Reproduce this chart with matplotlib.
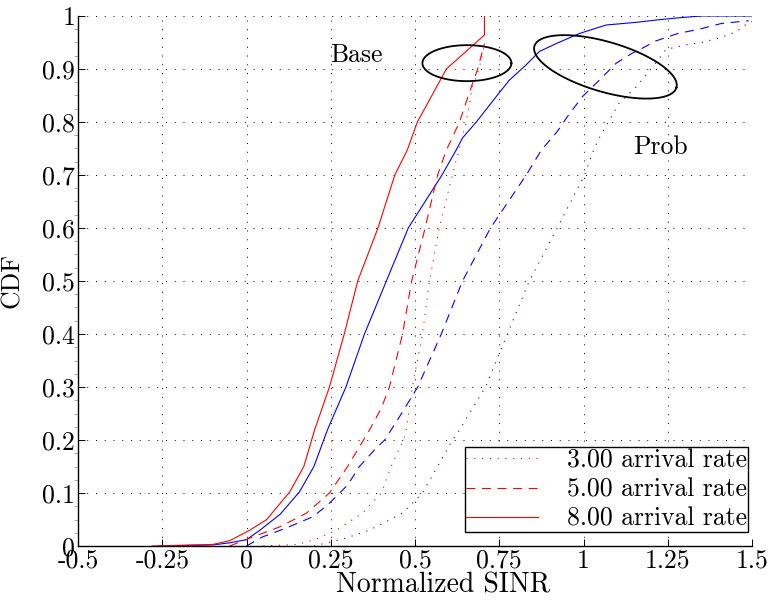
import numpy as np
import matplotlib
matplotlib.use("Agg")
import matplotlib.pyplot as plt

plt.rcParams["font.family"] = ["cmr10", "DejaVu Serif"]
plt.rcParams["mathtext.fontset"] = "cm"
plt.rcParams["axes.unicode_minus"] = False

# empirical CDFs of the normalized SINR, (x, F(x)) pairs
base8_x = [-0.28, -0.10, -0.05, 0.01, 0.06, 0.128, 0.17, 0.202, 0.246, 0.29, 0.33,
           0.39, 0.44, 0.477, 0.507, 0.55, 0.593, 0.667, 0.706, 0.706]
base8_y = [0.0, 0.003, 0.01, 0.03, 0.05, 0.102, 0.15, 0.219, 0.30, 0.40, 0.50,
           0.60, 0.70, 0.747, 0.80, 0.85, 0.90, 0.942, 0.964, 1.0]

prob8_x = [-0.26, -0.10, -0.05, 0.0, 0.04, 0.10, 0.157, 0.20, 0.24, 0.295, 0.35,
           0.415, 0.48, 0.58, 0.622, 0.641, 0.682, 0.741, 0.78, 0.83, 0.869,
           0.919, 0.988, 1.067, 1.156, 1.225, 1.29, 1.35, 1.5]
prob8_y = [0.0, 0.002, 0.006, 0.012, 0.03, 0.06, 0.102, 0.15, 0.219, 0.30, 0.40,
           0.50, 0.60, 0.70, 0.747, 0.77, 0.80, 0.848, 0.879, 0.908, 0.933,
           0.948, 0.967, 0.983, 0.988, 0.993, 0.997, 1.0, 1.0]

base5_x = [-0.05, 0.01, 0.098, 0.178, 0.246, 0.30, 0.365, 0.40, 0.424, 0.463,
           0.49, 0.53, 0.567, 0.593, 0.632, 0.667, 0.686, 0.706]
base5_y = [0.0, 0.015, 0.036, 0.062, 0.10, 0.15, 0.219, 0.26, 0.30, 0.40,
           0.50, 0.60, 0.70, 0.747, 0.80, 0.866, 0.90, 0.948]

prob5_x = [0.0, 0.047, 0.118, 0.196, 0.24, 0.30, 0.335, 0.385, 0.41, 0.46, 0.508,
           0.578, 0.641, 0.724, 0.83, 0.875, 0.922, 0.952, 0.997, 1.047,
           1.097, 1.145, 1.165, 1.215, 1.28, 1.343, 1.41, 1.49]
prob5_y = [0.0, 0.017, 0.034, 0.055, 0.077, 0.115, 0.15, 0.185, 0.20, 0.25, 0.30,
           0.40, 0.50, 0.60, 0.70, 0.747, 0.782, 0.81, 0.848, 0.879,
           0.911, 0.93, 0.936, 0.953, 0.967, 0.975, 0.986, 0.991]

base3_x = [0.05, 0.15, 0.207, 0.267, 0.344, 0.40, 0.433, 0.466, 0.474, 0.492,
           0.522, 0.543, 0.572, 0.611, 0.63, 0.652, 0.67, 0.69, 0.706]
base3_y = [0.0, 0.003, 0.013, 0.03, 0.062, 0.10, 0.156, 0.20, 0.219, 0.30,
           0.40, 0.50, 0.60, 0.70, 0.747, 0.80, 0.866, 0.90, 0.945]

prob3_x = [0.20, 0.285, 0.365, 0.463, 0.522, 0.572, 0.611, 0.632, 0.709, 0.774,
           0.839, 0.922, 1.003, 1.03, 1.047, 1.106, 1.156, 1.205, 1.245, 1.30,
           1.35, 1.40, 1.453, 1.48, 1.5]
prob3_y = [0.0, 0.013, 0.03, 0.062, 0.10, 0.156, 0.20, 0.219, 0.30, 0.40,
           0.50, 0.60, 0.70, 0.747, 0.77, 0.836, 0.866, 0.904, 0.937, 0.945,
           0.95, 0.958, 0.97, 0.983, 0.99]

rate_labels = ["3.00 arrival rate", "5.00 arrival rate", "8.00 arrival rate"]
x_ticks = [-0.5, -0.25, 0, 0.25, 0.5, 0.75, 1, 1.25, 1.5]
x_ticklabels = ["-0.5", "-0.25", "0", "0.25", "0.5", "0.75", "1", "1.25", "1.5"]
y_ticks = [0, 0.1, 0.2, 0.3, 0.4, 0.5, 0.6, 0.7, 0.8, 0.9, 1]
y_ticklabels = ["0", "0.1", "0.2", "0.3", "0.4", "0.5", "0.6", "0.7", "0.8", "0.9", "1"]

fs = 18.5
dotted = (0, (1, 6))
dashed = (0, (8, 6))
lw = 0.8

fig = plt.figure(figsize=(7.74, 6.01), dpi=100)
ax = fig.add_axes([0.1008, 0.0915, 0.8708, 0.8819])

ax.plot(prob3_x, prob3_y, color="blue", ls=dotted, lw=lw)
ax.plot(prob5_x, prob5_y, color="blue", ls=dashed, lw=lw)
ax.plot(prob8_x, prob8_y, color="blue", ls="-", lw=lw)
h3, = ax.plot(base3_x, base3_y, color="red", ls=dotted, lw=lw)
h5, = ax.plot(base5_x, base5_y, color="red", ls=dashed, lw=lw)
h8, = ax.plot(base8_x, base8_y, color="red", ls="-", lw=lw)

ax.set_xlim(-0.5, 1.5)
ax.set_ylim(0, 1)
ax.set_xticks(x_ticks)
ax.set_xticklabels(x_ticklabels)
ax.set_yticks(y_ticks)
ax.set_yticklabels(y_ticklabels)
ax.set_yticks(np.arange(0, 1.0001, 0.025), minor=True)
ax.tick_params(which="major", direction="in", length=5, width=0.7,
               labelsize=fs, pad=2)
ax.tick_params(which="minor", axis="y", direction="out", length=3, width=0.4,
               color="0.4")
ax.tick_params(which="minor", axis="x", length=0)

for s in ("top", "right"):
    ax.spines[s].set_visible(False)
for s in ("left", "bottom"):
    ax.spines[s].set_linewidth(1.0)

ax.grid(True, which="major", color="black", ls=(0, (1, 8)), lw=0.7)
ax.set_axisbelow(True)

ax.set_xlabel("Normalized SINR", fontsize=20, va="baseline")
ax.xaxis.set_label_coords(0.541, -0.088)
ax.set_ylabel("CDF", fontsize=fs)
ax.yaxis.set_label_coords(-0.08, 0.5)

# ellipses drawn in pixel units so the rotation is not skewed by the aspect
bbox = ax.get_position()
sx = bbox.width * fig.get_figwidth() * fig.dpi / 2.0
sy = bbox.height * fig.get_figheight() * fig.dpi / 1.0


def ellipse(cx, cy, a, b, ang):
    t = np.linspace(0, 2 * np.pi, 300)
    th = np.radians(ang)
    dx = a * np.cos(t) * np.cos(th) - b * np.sin(t) * np.sin(th)
    dy = a * np.cos(t) * np.sin(th) + b * np.sin(t) * np.cos(th)
    ax.plot(cx + dx / sx, cy + dy / sy, color="black", lw=1.3, clip_on=False)


ellipse(0.654, 0.911, 44.5, 18, 0)
ellipse(1.065, 0.904, 74, 25, -16.3)

ax.text(0.326, 0.926, "Base", fontsize=fs, ha="center", va="center")
ax.text(1.228, 0.753, "Prob", fontsize=fs, ha="center", va="center")

leg = ax.legend([h3, h5, h8], rate_labels, loc="lower right",
                bbox_to_anchor=(0.994, 0.026), fontsize=fs, frameon=True,
                fancybox=False, edgecolor="black", framealpha=1,
                handlelength=2.8, handletextpad=1.1, labelspacing=0.22,
                borderpad=0.05, borderaxespad=0)
leg.get_frame().set_linewidth(1.0)

fig.savefig("out.png", dpi=100)
